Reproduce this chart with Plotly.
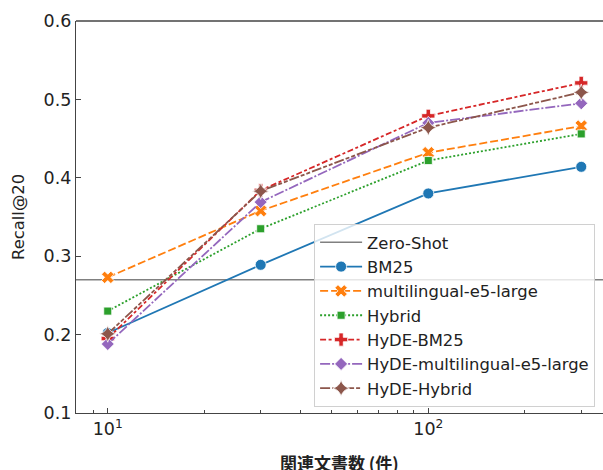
import plotly.graph_objects as go

# ---- data ----
n_docs = [10, 30, 100, 300]
zero_shot = 0.27
bm25 = [0.202, 0.289, 0.380, 0.414]
me5 = [0.273, 0.358, 0.432, 0.466]
hybrid = [0.230, 0.335, 0.422, 0.456]
hyde_bm25 = [0.195, 0.384, 0.479, 0.521]
hyde_me5 = [0.188, 0.369, 0.470, 0.495]
hyde_hybrid = [0.201, 0.383, 0.464, 0.509]
x_tick_vals = [10, 100]
x_tick_text = ["10<sup>1</sup>", "10<sup>2</sup>"]
y_tick_vals = [0.1, 0.2, 0.3, 0.4, 0.5, 0.6]

series = [
    ("BM25", bm25, "#1f77b4", "solid", "circle", 11),
    ("multilingual-e5-large", me5, "#ff7f0e", "8px,3px", "x", 11),
    ("Hybrid", hybrid, "#2ca02c", "2px,2px", "square", 8),
    ("HyDE-BM25", hyde_bm25, "#d62728", "6px,2.5px,3px,2.5px", "cross", 11),
    ("HyDE-multilingual-e5-large", hyde_me5, "#9467bd", "10px,2px,2px,2px", "diamond", 10),
    ("HyDE-Hybrid", hyde_hybrid, "#8c564b", "10px,2px,4px,2px,4px,2px", "star-diamond", 12),
]

W, H = 603, 470
ML, MR, MT, MB = 76, 0, 21, 57

fig = go.Figure()

fig.add_hline(y=zero_shot, line=dict(color="#808080", width=1.6), layer="below")
fig.add_trace(go.Scatter(x=[None], y=[None], mode="lines", name="Zero-Shot",
                         line=dict(color="#808080", width=1.6)))

for name, vals, color, dash, sym, size in series:
    fig.add_trace(go.Scatter(
        x=n_docs, y=vals, mode="lines+markers", name=name,
        line=dict(color=color, width=1.8, dash=dash),
        marker=dict(symbol=sym, size=size, color=color,
                    line=dict(color="white", width=0.8)),
    ))

minor_vals = [v * 10 ** e for e in (0, 1, 2) for v in range(2, 10)]
minor_vals = [m for m in minor_vals if 8 <= m <= 352]

fig.update_xaxes(
    type="log", range=[0.901, 2.545], automargin=False,
    tickvals=x_tick_vals, ticktext=x_tick_text,
    ticks="inside", ticklen=5, tickwidth=1.2, tickcolor="#444",
    minor=dict(tickvals=minor_vals, ticks="inside", ticklen=3, tickwidth=1, tickcolor="#444"),
    showline=True, linecolor="#444", linewidth=1.3,
    showgrid=False, zeroline=False,
    tickfont=dict(size=17.5, color="#222"),
)
fig.update_yaxes(
    range=[0.1, 0.6], tickvals=y_tick_vals, automargin=False,
    tickformat=".1f",
    ticks="inside", ticklen=5, tickwidth=1.2, tickcolor="#444",
    showline=True, linecolor="#444", linewidth=1.3,
    showgrid=False, zeroline=False,
    tickfont=dict(size=17.5, color="#222"),
)

# top spine
fig.add_shape(type="line", xref="paper", yref="paper", x0=0, x1=1, y0=1, y1=1,
              line=dict(color="#444", width=1.3))

plot_h = H - MT - MB
fig.add_annotation(text="関連文書数 (件)", xref="paper", yref="paper",
                   x=0.5, y=1 - (462 - MT) / plot_h, xanchor="center", yanchor="middle",
                   showarrow=False,
                   font=dict(size=17, color="#222", family="Noto Sans CJK JP", weight="bold"))
fig.add_annotation(text="Recall@20", xref="paper", yref="paper",
                   x=-(ML - 18) / (W - ML - MR), y=0.5, xanchor="center", yanchor="middle",
                   textangle=-90, showarrow=False,
                   font=dict(size=16.4, color="#222"))

fig.update_layout(
    width=W, height=H,
    margin=dict(l=ML, r=MR, t=MT, b=MB, autoexpand=False),
    paper_bgcolor="white", plot_bgcolor="white",
    font=dict(family="DejaVu Sans", color="#222"),
    legend=dict(
        x=0.985, y=0.015, xanchor="right", yanchor="bottom",
        bgcolor="rgba(255,255,255,0.8)", bordercolor="#d0d0d0", borderwidth=1,
        font=dict(size=16.4, color="#222"),
        tracegroupgap=0, itemwidth=42,
    ),
)

fig.write_html("out.html", config={"displayModeBar": False},
               post_script="document.body.style.margin='0';document.body.style.padding='0';")
